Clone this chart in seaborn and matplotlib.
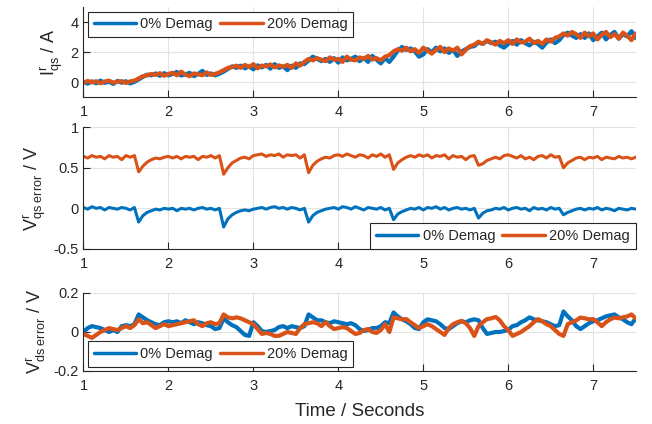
import numpy as np
import pandas as pd
import matplotlib
matplotlib.use('Agg')
import matplotlib.pyplot as plt
from matplotlib.ticker import FormatStrFormatter
import seaborn as sns

# time axis, 0.05 s steps from 1 s to 7.5 s
t = np.round(np.arange(1.0, 7.5001, 0.05), 2)

# I_qs (A)
iqs_0 = [0.02, -0.10, 0.05, -0.08, 0.10, -0.05, 0.03, -0.12, 0.08, -0.04,
         0.06, -0.09, 0.02, 0.18, 0.35, 0.50, 0.45, 0.58, 0.42, 0.60,
         0.45, 0.55, 0.68, 0.44, 0.52, 0.62, 0.40, 0.55, 0.75, 0.48,
         0.58, 0.45, 0.55, 0.70, 0.88, 1.05, 0.95, 1.10, 0.92, 1.05,
         0.85, 1.12, 0.98, 1.15, 0.90, 1.20, 0.95, 1.05, 0.80, 1.10,
         0.95, 1.25, 1.20, 1.45, 1.70, 1.55, 1.40, 1.55, 1.35, 1.60,
         1.30, 1.65, 1.45, 1.55, 1.70, 1.40, 1.60, 1.35, 1.75, 1.50,
         1.25, 1.60, 1.35, 1.70, 2.10, 2.35, 2.15, 2.25, 2.05, 1.70,
         1.85, 2.20, 2.00, 2.30, 2.05, 2.25, 1.95, 2.15, 1.75, 2.05,
         2.20, 2.35, 2.40, 2.65, 2.55, 2.75, 2.60, 2.70, 2.45, 2.30,
         2.55, 2.75, 2.50, 2.80, 2.60, 2.45, 2.70, 2.55, 2.30, 2.65,
         2.85, 2.60, 2.80, 3.15, 3.30, 3.10, 2.95, 3.20, 2.95, 3.25,
         2.80, 3.05, 3.30, 2.85, 3.15, 3.35, 2.90, 3.20, 3.05, 3.40,
         2.95]
iqs_20 = [-0.05, 0.08, -0.02, 0.06, -0.08, 0.04, 0.10, -0.03, 0.02, 0.07,
          -0.06, 0.05, 0.10, 0.25, 0.40, 0.45, 0.55, 0.48, 0.60, 0.42,
          0.55, 0.62, 0.45, 0.70, 0.50, 0.40, 0.58, 0.52, 0.46, 0.65,
          0.48, 0.55, 0.65, 0.80, 0.95, 1.00, 1.10, 0.95, 1.15, 1.00,
          1.20, 0.92, 1.10, 1.05, 1.18, 0.98, 1.12, 1.02, 1.15, 0.95,
          1.25, 1.10, 1.35, 1.55, 1.45, 1.60, 1.50, 1.40, 1.65, 1.50,
          1.55, 1.35, 1.70, 1.50, 1.45, 1.65, 1.55, 1.75, 1.50, 1.60,
          1.45, 1.70, 1.80, 2.05, 2.20, 2.10, 2.30, 2.05, 2.20, 1.95,
          2.30, 2.10, 1.90, 2.15, 2.35, 2.00, 2.25, 2.10, 2.30, 1.85,
          2.15, 2.40, 2.50, 2.70, 2.55, 2.80, 2.65, 2.50, 2.75, 2.60,
          2.80, 2.55, 2.85, 2.65, 2.70, 2.90, 2.60, 2.75, 2.55, 2.85,
          2.70, 2.95, 3.05, 3.25, 3.10, 3.35, 3.20, 2.95, 3.30, 3.05,
          3.25, 2.85, 3.15, 3.35, 3.00, 3.20, 2.90, 3.30, 3.10, 2.80,
          3.25]

# V_qs error (V)
vqs_0 = [0.01, -0.01, 0.02, 0.00, 0.01, -0.02, 0.01, 0.00, -0.01, 0.01,
         0.00, -0.02, 0.01, -0.17, -0.09, -0.05, -0.03, -0.01, -0.02, 0.00,
         -0.01, 0.00, -0.03, 0.00, -0.01, 0.00, -0.02, 0.00, 0.01, -0.01,
         0.00, -0.02, 0.00, -0.23, -0.13, -0.08, -0.05, -0.03, -0.02, -0.03,
         -0.01, 0.00, 0.01, -0.01, 0.01, 0.02, 0.00, 0.01, -0.01, 0.01,
         0.00, -0.02, 0.00, -0.17, -0.09, -0.05, -0.03, -0.01, 0.00, 0.01,
         -0.01, 0.02, 0.01, -0.01, 0.02, 0.00, -0.02, 0.01, 0.00, -0.01,
         0.01, -0.02, 0.00, -0.14, -0.07, -0.04, -0.02, 0.00, -0.01, 0.01,
         -0.02, 0.01, 0.00, 0.02, -0.01, 0.01, -0.02, 0.00, 0.01, -0.01,
         0.00, -0.02, 0.00, -0.12, -0.06, -0.03, -0.02, 0.00, -0.01, 0.01,
         -0.02, 0.00, 0.01, -0.01, 0.00, -0.03, 0.01, -0.01, 0.00, -0.02,
         0.01, -0.01, 0.00, -0.08, -0.05, -0.03, -0.01, 0.00, -0.02, 0.00,
         -0.01, 0.01, -0.02, 0.00, -0.01, -0.03, 0.00, -0.01, -0.02, 0.00,
         -0.01]
vqs_20 = [0.64, 0.62, 0.65, 0.63, 0.64, 0.61, 0.65, 0.63, 0.64, 0.60,
          0.65, 0.63, 0.65, 0.45, 0.52, 0.57, 0.60, 0.62, 0.61, 0.63,
          0.64, 0.62, 0.64, 0.61, 0.64, 0.63, 0.64, 0.60, 0.64, 0.63,
          0.65, 0.62, 0.65, 0.42, 0.50, 0.56, 0.59, 0.62, 0.63, 0.61,
          0.65, 0.66, 0.67, 0.64, 0.66, 0.65, 0.67, 0.63, 0.66, 0.65,
          0.66, 0.62, 0.66, 0.44, 0.53, 0.58, 0.61, 0.63, 0.62, 0.65,
          0.66, 0.64, 0.67, 0.65, 0.63, 0.66, 0.65, 0.62, 0.66, 0.64,
          0.67, 0.63, 0.66, 0.48, 0.56, 0.60, 0.63, 0.65, 0.63, 0.66,
          0.64, 0.66, 0.62, 0.65, 0.64, 0.66, 0.61, 0.65, 0.63, 0.64,
          0.60, 0.64, 0.65, 0.53, 0.55, 0.59, 0.61, 0.63, 0.61, 0.65,
          0.66, 0.64, 0.62, 0.65, 0.61, 0.63, 0.60, 0.64, 0.65, 0.62,
          0.66, 0.63, 0.64, 0.50, 0.56, 0.59, 0.62, 0.63, 0.60, 0.63,
          0.62, 0.64, 0.60, 0.63, 0.62, 0.61, 0.64, 0.62, 0.63, 0.61,
          0.63]

# V_ds error (V)
vds_0 = [0.00, 0.02, 0.03, 0.025, 0.02, 0.01, 0.00, 0.01, 0.00, 0.03,
         0.035, 0.03, 0.04, 0.09, 0.075, 0.06, 0.05, 0.04, 0.035, 0.05,
         0.055, 0.05, 0.055, 0.045, 0.06, 0.05, 0.04, 0.05, 0.045, 0.035,
         0.03, 0.015, 0.02, 0.07, 0.05, 0.035, 0.025, 0.005, -0.015, -0.02,
         0.05, 0.03, 0.005, 0.0, 0.005, 0.01, 0.025, 0.03, 0.02, 0.03,
         0.025, 0.02, 0.03, 0.09, 0.075, 0.06, 0.06, 0.05, 0.045, 0.055,
         0.05, 0.045, 0.04, 0.045, 0.035, 0.015, 0.005, 0.01, 0.02, 0.02,
         0.03, 0.05, 0.045, 0.10, 0.08, 0.065, 0.055, 0.04, 0.02, 0.015,
         0.05, 0.065, 0.06, 0.055, 0.04, 0.02, 0.015, 0.03, 0.045, 0.055,
         0.05, 0.06, 0.065, 0.06, 0.02, -0.01, -0.005, 0.0, 0.0, 0.005,
         0.01, 0.03, 0.035, 0.05, 0.06, 0.075, 0.065, 0.06, 0.055, 0.05,
         0.04, 0.03, 0.035, 0.105, 0.08, 0.06, 0.03, 0.015, 0.03, 0.045,
         0.055, 0.06, 0.07, 0.08, 0.085, 0.09, 0.075, 0.065, 0.05, 0.04,
         0.07]
vds_20 = [-0.01, -0.02, -0.03, -0.015, 0.0, 0.01, 0.02, 0.015, 0.01, 0.02,
          0.03, 0.02, 0.035, 0.065, 0.045, 0.05, 0.035, 0.02, 0.03, 0.04,
          0.03, 0.035, 0.04, 0.045, 0.05, 0.055, 0.06, 0.04, 0.03, 0.045,
          0.05, 0.04, 0.045, 0.09, 0.075, 0.07, 0.075, 0.07, 0.06, 0.05,
          0.04, 0.015, -0.01, -0.005, -0.01, -0.02, -0.02, -0.01, 0.0, -0.005,
          -0.01, 0.02, 0.04, 0.045, 0.05, 0.045, 0.03, 0.05, 0.03, 0.015,
          0.02, 0.025, 0.02, 0.005, -0.01, -0.005, 0.01, 0.015, 0.0, -0.005,
          0.01, 0.04, 0.0, 0.075, 0.07, 0.065, 0.066, 0.05, 0.035, 0.02,
          0.03, 0.04, 0.03, 0.015, 0.0, -0.015, 0.02, 0.04, 0.05, 0.057,
          0.045, 0.02, -0.02, 0.03, 0.05, 0.066, 0.07, 0.077, 0.06, 0.03,
          0.01, -0.02, -0.01, 0.0, 0.015, 0.03, 0.05, 0.066, 0.055, 0.04,
          0.03, 0.01, -0.01, -0.02, 0.04, 0.05, 0.06, 0.074, 0.07, 0.065,
          0.066, 0.05, 0.03, 0.05, 0.065, 0.074, 0.07, 0.075, 0.08, 0.09,
          0.07]

labels = ['0% Demag', '20% Demag']
BLUE = '#0072BD'
ORANGE = '#D95319'
DARK = '#262626'

sns.set_theme(style='ticks')
plt.rcParams['font.family'] = ['Liberation Sans', 'DejaVu Sans']
plt.rcParams['mathtext.fontset'] = 'custom'
plt.rcParams['mathtext.rm'] = 'Liberation Sans'
plt.rcParams['mathtext.it'] = 'Liberation Sans'

fig = plt.figure(figsize=(6.52, 4.24), dpi=100)
left, width = 0.128, 0.847
ax1 = fig.add_axes([left, 0.771, width, 0.212])
ax2 = fig.add_axes([left, 0.413, width, 0.287])
ax3 = fig.add_axes([left, 0.125, width, 0.184])

panels = [
    (ax1, iqs_0, iqs_20, 3.0, (-1, 5), [0, 2, 4], r'$\mathregular{I^r_{qs}}$ / A', 'upper left', 0.3),
    (ax2, vqs_0, vqs_20, 2.2, (-0.5, 1), [-0.5, 0, 0.5, 1], r'$\mathregular{V^r_{qs\ error}}$ / V', 'lower right', 0.0),
    (ax3, vds_0, vds_20, 3.0, (-0.2, 0.2), [-0.2, 0, 0.2], r'$\mathregular{V^r_{ds\ error}}$ / V', 'lower left', 0.3),
]

for ax, y0, y20, lw, ylim, yticks, ylab, loc, bpad in panels:
    sns.lineplot(x=t, y=y0, ax=ax, color=BLUE, linewidth=lw, label=labels[0])
    sns.lineplot(x=t, y=y20, ax=ax, color=ORANGE, linewidth=lw, label=labels[1])
    ax.set_xlim(1, 7.5)
    ax.set_ylim(*ylim)
    ax.set_xticks([1, 2, 3, 4, 5, 6, 7])
    ax.set_yticks(yticks)
    ax.yaxis.set_major_formatter(FormatStrFormatter('%g'))
    ax.grid(True, color='#E3E3E3', linewidth=0.8)
    ax.set_axisbelow(True)
    for s in ['top', 'right']:
        ax.spines[s].set_visible(False)
    for s in ['left', 'bottom']:
        ax.spines[s].set_color(DARK)
        ax.spines[s].set_linewidth(0.8)
    ax.tick_params(direction='in', length=5, width=0.8, colors=DARK,
                   labelsize=10.5)
    ax.tick_params(axis='x', pad=6)
    ax.set_ylabel(ylab, fontsize=13, color=DARK, labelpad=4)
    ax.set_xlabel('')
    leg = ax.legend(loc=loc, ncol=2, fontsize=10.5, handlelength=2.9,
                    handletextpad=0.3, columnspacing=0.5, borderpad=0.4,
                    borderaxespad=bpad, frameon=True, fancybox=False,
                    framealpha=1, edgecolor=DARK)
    leg.get_frame().set_linewidth(0.8)
    for h in leg.get_lines():
        h.set_linewidth(2.5)

ax3.set_xlabel('Time / Seconds', fontsize=13.5, color=DARK, labelpad=7)

fig.savefig('out.png', dpi=100)
